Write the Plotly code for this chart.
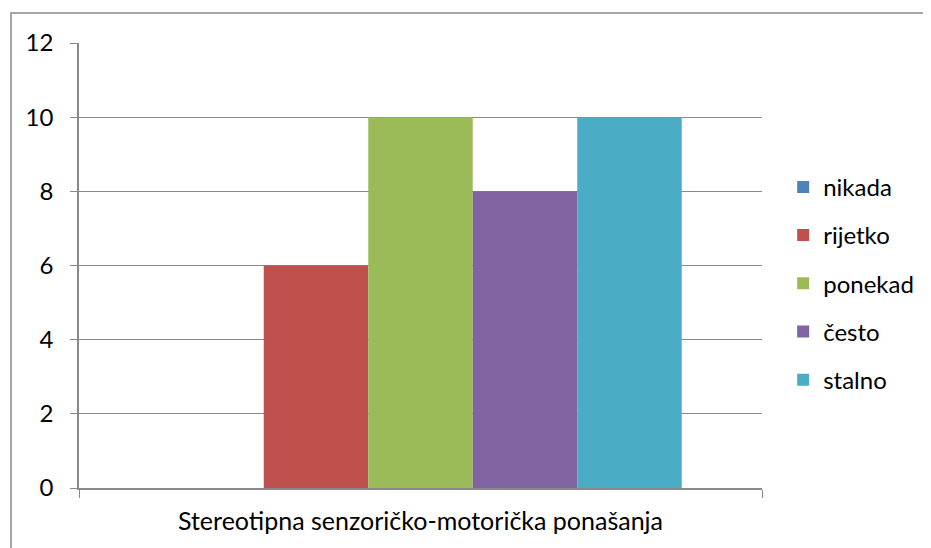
import plotly.graph_objects as go

category = ["Stereotipna senzoričko-motorička ponašanja"]
series_names = ["nikada", "rijetko", "ponekad", "često", "stalno"]
series_values = [0, 6, 10, 8, 10]
series_colors = ["#4F81BD", "#C0504D", "#9BBB59", "#8064A2", "#4BACC6"]

FONT = "Lato"
GRID = "#898989"

fig = go.Figure()
for name, value, color in zip(series_names, series_values, series_colors):
    fig.add_trace(
        go.Bar(
            x=category,
            y=[value],
            name=name,
            legendgroup=name,
            marker=dict(color=color, line=dict(width=0)),
        )
    )

# page body has an 8px margin, so the figure is 8px smaller than the window
fig.update_layout(
    width=923,
    height=540,
    template="plotly_white",
    barmode="group",
    bargap=0.235,
    bargroupgap=0,
    paper_bgcolor="white",
    plot_bgcolor="white",
    font=dict(family=FONT, size=24, color="#000000"),
    margin=dict(l=71, r=169, t=35, b=60, autoexpand=False),
    showlegend=True,
    legend=dict(
        x=1.031,
        xanchor="left",
        y=0.46,
        yanchor="middle",
        tracegroupgap=14,
        font=dict(family=FONT, size=24),
        bgcolor="rgba(0,0,0,0)",
    ),
)

fig.update_yaxes(
    range=[0, 12],
    dtick=2,
    showgrid=True,
    gridcolor=GRID,
    gridwidth=1,
    zeroline=False,
    showline=True,
    linecolor=GRID,
    linewidth=1.5,
    ticks="outside",
    ticklen=7,
    tickcolor=GRID,
    ticklabelstandoff=12,
    tickfont=dict(family=FONT, size=24),
)
fig.update_xaxes(
    showgrid=False,
    showline=True,
    linecolor=GRID,
    linewidth=1.5,
    ticks="outside",
    tickson="boundaries",
    ticklen=8,
    tickcolor=GRID,
    ticklabelstandoff=10,
    tickfont=dict(family=FONT, size=25),
)

# outer chart frame, running off the right and bottom edges
fig.add_shape(
    type="rect",
    xref="paper",
    yref="paper",
    x0=-0.0996,
    x1=1.4,
    y0=-0.4,
    y1=1.0674,
    line=dict(color=GRID, width=1.5),
    fillcolor="rgba(0,0,0,0)",
    layer="below",
)

fig.write_html("out.html")
